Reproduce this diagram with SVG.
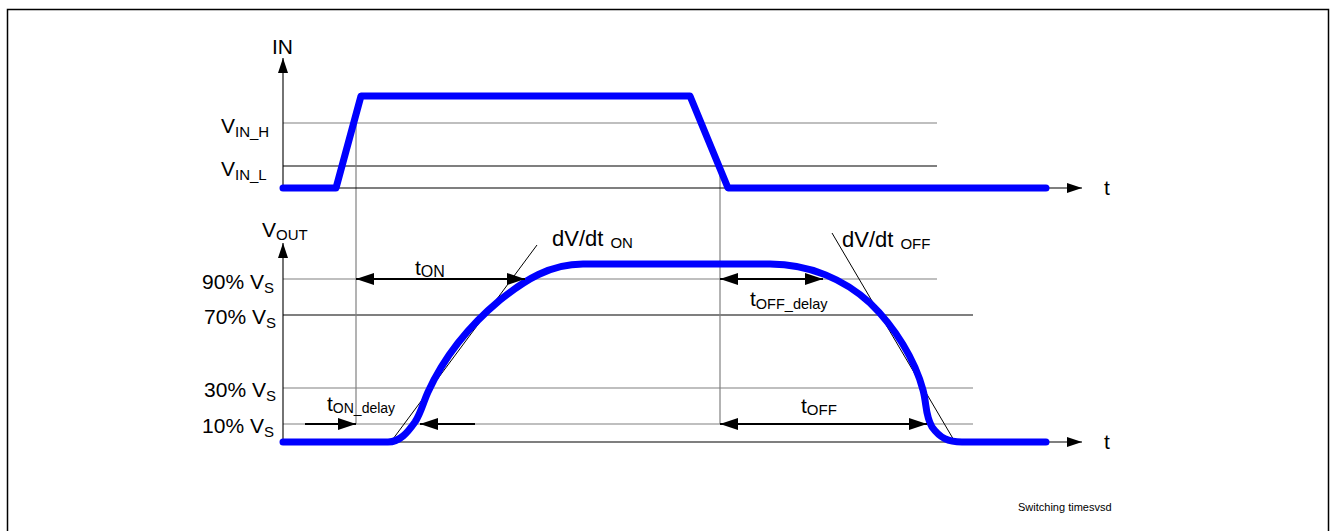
<svg xmlns="http://www.w3.org/2000/svg" width="1332" height="531" viewBox="0 0 1332 531">
<style>
text{font-family:"Liberation Sans",Arial,sans-serif;fill:#000}
.lbl{font-size:21px}
.sub{font-size:15px}
.g{stroke:#808080;stroke-width:1.2;fill:none}
.k{stroke:#000;stroke-width:1.1;fill:none}
.wave{stroke:#0000FF;stroke-width:7;fill:none;stroke-linecap:round;stroke-linejoin:round}
.dim{stroke:#000;stroke-width:2;fill:none}
.tan{stroke:#000;stroke-width:1;fill:none}
</style>
<defs>
<marker id="ah" viewBox="0 0 18 12" refX="18" refY="6" markerWidth="18" markerHeight="12" markerUnits="userSpaceOnUse" orient="auto-start-reverse">
<path d="M0,0 L18,6 L0,12 Z" fill="#000"/>
</marker>
<marker id="ax" viewBox="0 0 15 10" refX="15" refY="5" markerWidth="15" markerHeight="10" markerUnits="userSpaceOnUse" orient="auto">
<path d="M0,0 L15,5 L0,10 Z" fill="#000"/>
</marker>
</defs>
<rect x="7.5" y="9.5" width="1321" height="600" fill="#fff" stroke="#000" stroke-width="1.5"/>

<g id="grid">
<line class="g" x1="283" y1="123" x2="937" y2="123"/>
<line class="k" x1="283" y1="166" x2="937" y2="166"/>
<line class="g" x1="283" y1="279" x2="937" y2="279"/>
<line class="k" x1="283" y1="315" x2="973" y2="315"/>
<line class="g" x1="283" y1="388" x2="973" y2="388"/>
<line class="g" x1="283" y1="424" x2="973" y2="424"/>
<line class="g" x1="356" y1="123" x2="356" y2="424"/>
<line class="g" x1="720" y1="166" x2="720" y2="424"/>
</g>

<g id="axes">
<line class="k" x1="283" y1="188" x2="283" y2="58" marker-end="url(#ax)"/>
<line class="k" x1="283" y1="188" x2="1082" y2="188" marker-end="url(#ax)"/>
<line class="k" x1="283" y1="442" x2="283" y2="243" marker-end="url(#ax)"/>
<line class="k" x1="283" y1="442" x2="1082" y2="442" marker-end="url(#ax)"/>
</g>

<g id="tangents">
<line class="tan" x1="390" y1="443" x2="537" y2="245"/>
<line class="tan" x1="832" y1="233" x2="955" y2="442"/>
</g>

<g id="in-wave">
<path class="wave" d="M283,188 H336 L361,96 H690 L728,188 H1046"/>
</g>
<g id="out-wave">
<path class="wave" d="M283,442 H388 C400,442 408,432 415,422 C421,413 423,403 428,392 C445,355 470,325 500,300 C525,280 550,264 583,264 H770 C810,264 845,280 870,303 C895,327 915,360 923,390 C927,405 925,415 932,427 C940,438 948,442 962,442 H1046"/>
</g>

<g id="connectors">
<line class="dim" x1="356" y1="279" x2="525" y2="279" marker-start="url(#ah)" marker-end="url(#ah)"/>
<line class="dim" x1="305" y1="424" x2="356" y2="424" marker-end="url(#ah)"/>
<line class="dim" x1="475" y1="424" x2="420" y2="424" marker-end="url(#ah)"/>
<line class="dim" x1="720" y1="279" x2="823" y2="279" marker-start="url(#ah)" marker-end="url(#ah)"/>
<line class="dim" x1="720" y1="424" x2="927" y2="424" marker-start="url(#ah)" marker-end="url(#ah)"/>
</g>

<g id="labels">
<text class="lbl" x="272" y="54">IN</text>
<text class="lbl" x="221" y="133">V<tspan class="sub" dy="4">IN_H</tspan></text>
<text class="lbl" x="221" y="176">V<tspan class="sub" dy="4">IN_L</tspan></text>
<text class="lbl" x="1104" y="195">t</text>
<text class="lbl" x="262" y="237">V<tspan class="sub" dy="3">OUT</tspan></text>
<text class="lbl" x="274" y="289" text-anchor="end">90% V<tspan class="sub" dy="4">S</tspan></text>
<text class="lbl" x="276" y="324" text-anchor="end">70% V<tspan class="sub" dy="4">S</tspan></text>
<text class="lbl" x="276" y="397" text-anchor="end">30% V<tspan class="sub" dy="4">S</tspan></text>
<text class="lbl" x="274" y="433" text-anchor="end">10% V<tspan class="sub" dy="4">S</tspan></text>
<text class="lbl" x="1104" y="449">t</text>
<text class="lbl" x="415" y="275">t<tspan style="font-size:16px" dy="2">ON</tspan></text>
<text class="lbl" x="327" y="411">t<tspan style="font-size:14px" dy="2">ON_delay</tspan></text>
<text class="lbl" x="750" y="306">t<tspan style="font-size:14.5px" dy="3">OFF_delay</tspan></text>
<text class="lbl" x="801" y="413">t<tspan class="sub" dy="2">OFF</tspan></text>
<text x="552" y="246" style="font-size:22px">dV/dt<tspan class="sub" dx="7" dy="2">ON</tspan></text>
<text x="842" y="247" style="font-size:22px">dV/dt<tspan class="sub" dx="7" dy="2">OFF</tspan></text>
<text x="1018" y="511" style="font-size:11px">Switching timesvsd</text>
</g>
</svg>
